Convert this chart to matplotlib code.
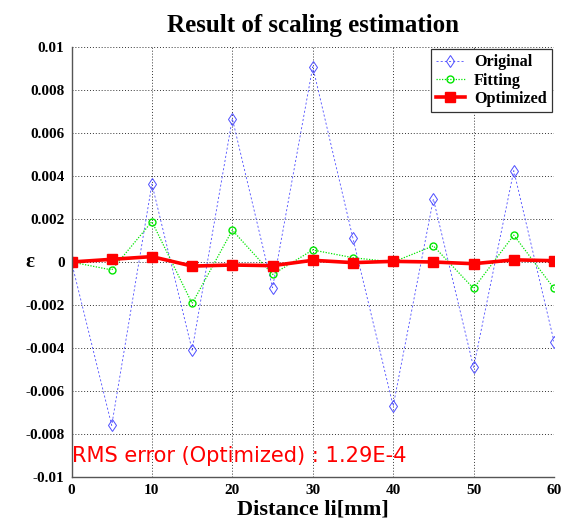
import matplotlib
matplotlib.use("Agg")
import matplotlib.pyplot as plt

distance = [0, 5, 10, 15, 20, 25, 30, 35, 40, 45, 50, 55, 60]
original = [0.0, -0.0076, 0.00363, -0.0041, 0.00667, -0.0012, 0.00908, 0.0011,
            -0.0067, 0.00293, -0.0049, 0.00425, -0.0037]
fitting = [0.0, -0.00037, 0.00188, -0.00193, 0.00148, -0.00058, 0.00056, 0.0002,
           0.0, 0.00075, -0.00123, 0.00125, -0.00123]
optimized = [0.0, 0.000125, 0.00025, -0.00019, -0.00014, -0.00017, 0.00008, -0.00003,
             0.00003, 0.0, -0.00008, 0.0001, 0.00006]
xticks = [0, 10, 20, 30, 40, 50, 60]
yticks = [-0.01, -0.008, -0.006, -0.004, -0.002, 0, 0.002, 0.004, 0.006, 0.008, 0.01]
ytick_labels = ["-0.01", "-0.008", "-0.006", "-0.004", "-0.002", "0",
                "0.002", "0.004", "0.006", "0.008", "0.01"]

serif = "Liberation Serif"
fig = plt.figure(figsize=(5.62, 5.22), dpi=100)
ax = fig.add_axes([71.5 / 562, 1 - 477 / 522, (554 - 71.5) / 562, 430 / 522])

ax.plot(distance, original, color="#4d4dff", linestyle=(0, (2.5, 2.5)), linewidth=0.6,
        marker="d", markersize=6, markerfacecolor="none", markeredgewidth=0.7,
        label="Original")
ax.plot(distance, fitting, color="#00e600", linestyle=(0, (1, 1.2)), linewidth=0.9,
        marker="o", markersize=5, markerfacecolor="none", markeredgewidth=1.0,
        label="Fitting")
ax.plot(distance, optimized, color="#ff0000", linestyle="-", linewidth=2.6,
        marker="s", markersize=7, label="Optimized")

ax.set_xlim(0, 60)
ax.set_ylim(-0.01, 0.01)
ax.set_xticks(xticks)
ax.set_yticks(yticks)
ax.set_yticklabels(ytick_labels)
ax.grid(True, color="#333333", linestyle=(0, (1, 2)), linewidth=0.7)
ax.spines["top"].set_visible(False)
ax.spines["right"].set_visible(False)
for side in ("left", "bottom"):
    ax.spines[side].set_color("#555555")
    ax.spines[side].set_linewidth(1.0)
for lab in ax.get_xticklabels() + ax.get_yticklabels():
    lab.set_fontfamily(serif)
    lab.set_fontweight("bold")
    lab.set_fontsize(11)
ax.tick_params(axis="y", direction="in", length=0, pad=5)
ax.tick_params(axis="x", direction="in", length=0, pad=5)

fig.text(312.8 / 562, 1 - 32 / 522, "Result of scaling estimation", fontfamily=serif,
         fontweight="bold", fontsize=18, ha="center", va="baseline")
ax.set_xlabel("Distance li[mm]", fontfamily=serif, fontweight="bold", fontsize=16,
              labelpad=2)
fig.text(30 / 562, 1 - 262 / 522, "ε", fontfamily=serif, fontweight="bold",
         fontsize=15, ha="center", va="center")

leg = ax.legend(loc="upper right", prop={"family": serif, "weight": "bold", "size": 11.7},
                fancybox=False, edgecolor="#333333", framealpha=1, borderpad=0.3,
                labelspacing=0.14, handlelength=1.8, handletextpad=0.55,
                borderaxespad=0.15)
leg.get_frame().set_linewidth(0.9)

rms = ax.text(0.002, 0.049, "RMS error (Optimized) : 1.29E-4", transform=ax.transAxes,
              color="#ff0000", fontsize=14, fontfamily="DejaVu Sans",
              ha="left", va="center")

# fit the note to the width it has in the reference (about 338 px)
fig.canvas.draw()
w = rms.get_window_extent().width
if w > 0:
    rms.set_fontsize(min(16, max(12, 14 * 338 / w)))

fig.savefig("out.png", dpi=100)
